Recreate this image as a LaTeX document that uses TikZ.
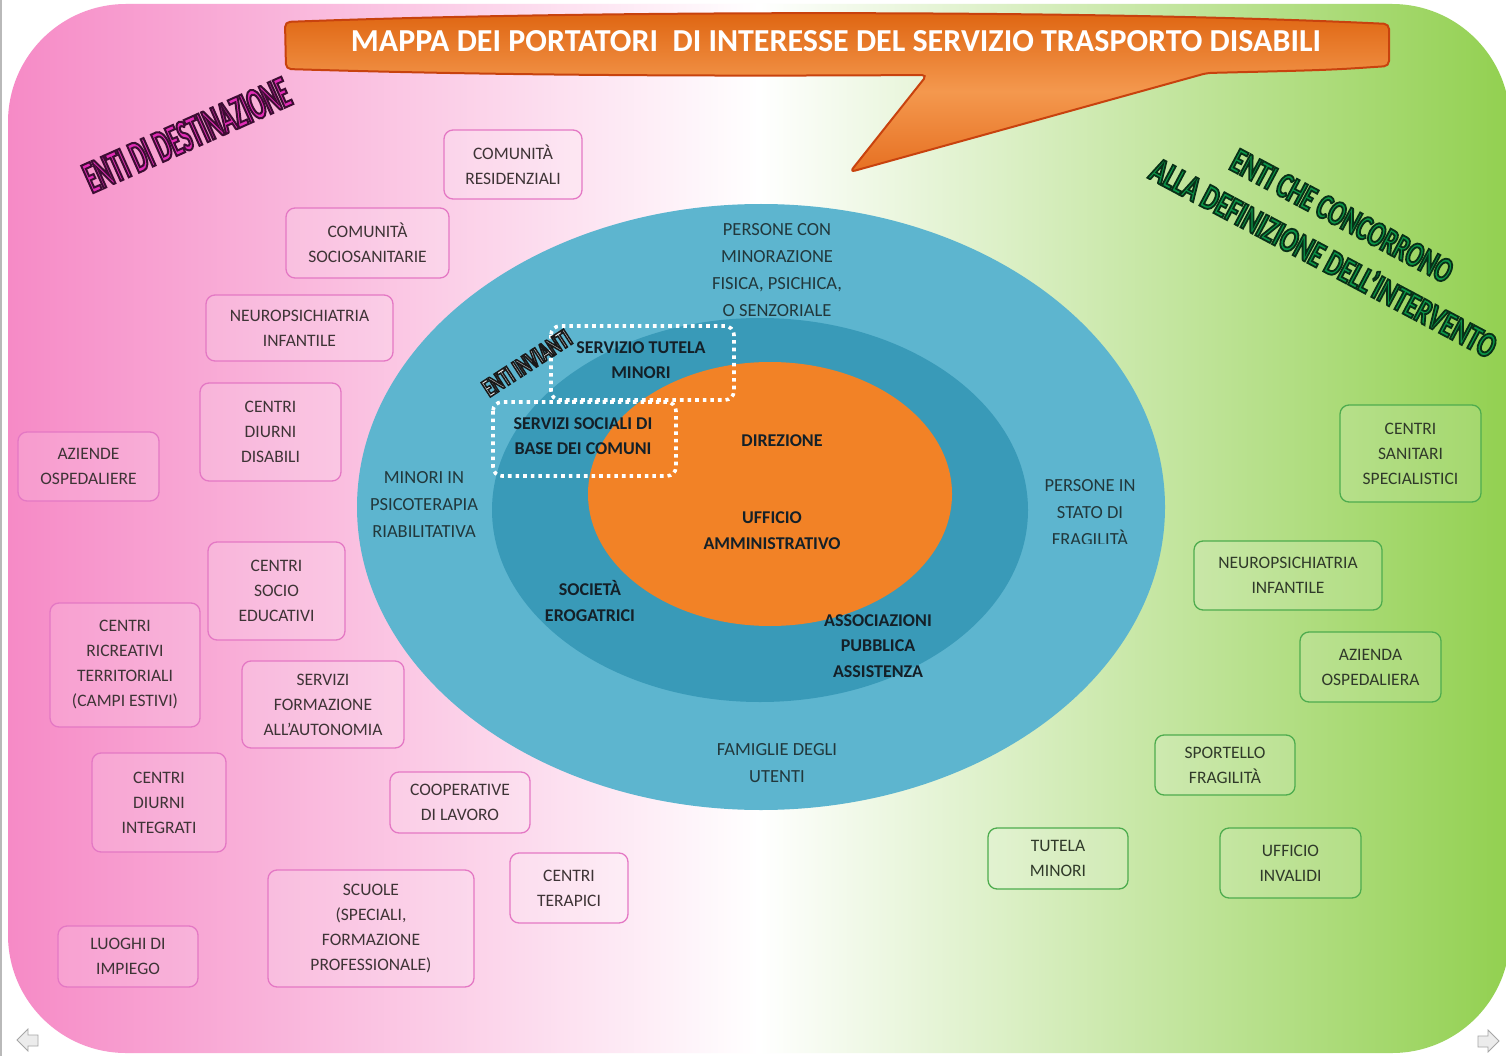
\documentclass[tikz,border=0pt]{standalone}
\usepackage{fontspec}
\setmainfont{Carlito}
\usepackage{graphicx}
\usetikzlibrary{calc}
\definecolor{pinkL}{RGB}{246,138,198}
\definecolor{greenR}{RGB}{146,208,80}
\definecolor{pinkborder}{RGB}{228,120,196}
\definecolor{greenborder}{RGB}{78,172,78}
\definecolor{boxtext}{RGB}{62,52,54}
\definecolor{gboxtext}{RGB}{48,58,42}
\definecolor{outerblue}{RGB}{93,181,207}
\definecolor{midblue}{RGB}{57,154,184}
\definecolor{orangeC}{RGB}{242,130,38}
\definecolor{eltext}{RGB}{34,56,60}
\definecolor{boldtext}{RGB}{20,32,40}
\definecolor{banD}{RGB}{222,100,16}
\definecolor{banL}{RGB}{244,152,78}
\definecolor{banM}{RGB}{230,112,34}
\definecolor{banEdge}{RGB}{200,66,14}
\definecolor{magentaW}{RGB}{226,44,182}
\definecolor{greenW}{RGB}{10,150,72}
\definecolor{grayW}{RGB}{236,236,236}
\newcommand\bxfont{\fontsize{17.5}{25}\selectfont}
\newcommand\elfont{\fontsize{18.5}{27}\selectfont}
\newcommand\bdfont{\fontsize{18}{25.5}\selectfont\bfseries}
% #1 name, #2 position, #3 angle, #4 font size, #5 stretch, #6 text, #7 stroke rgb, #8 fill colour, #9 stroke width
\newcommand\wordart[9]{%
  \node[rotate=#3, inner sep=0, text=#8] (#1) at (#2)
    {\fontsize{#4}{#4}\selectfont\bfseries\addfontfeatures{FakeStretch=#5}%
     \special{pdf:literal direct #7 RG #9 w 2 Tr}#6\special{pdf:literal direct 0 Tr}};
}
\begin{document}
\begin{tikzpicture}[x=1pt,y=-1pt,
  pbox/.style={draw=pinkborder, line width=1.3, rounded corners=9, fill=white, fill opacity=0.14, text opacity=1, text=boxtext, align=center, inner sep=0, font=\bxfont},
  gbox/.style={draw=greenborder, line width=1.3, rounded corners=9, fill=white, fill opacity=0.14, text opacity=1, text=gboxtext, align=center, inner sep=0, font=\bxfont},
  ellabel/.style={text=eltext, align=center, inner sep=0, font=\elfont},
  boldlabel/.style={text=boldtext, align=center, inner sep=0, font=\bdfont},
  dotbox/.style={draw=white, line width=3.6, dash pattern=on 3.6pt off 4pt, rounded corners=9},
  navarrow/.style={fill=grayW, draw=gray!70, line width=0.8}
]
\useasboundingbox (0,0) rectangle (1506,1056);
\fill[white] (0,0) rectangle (1506,1056);
\draw[gray!55, line width=1.6] (0.8,0) -- (0.8,1056);

% background
\shade[left color=pinkL, right color=greenR, middle color=white]
  (8,4) [rounded corners=118] rectangle (1510,1053);

% banner
\shade[top color=banD, bottom color=banM, middle color=banL, draw=banEdge, line width=2, rounded corners=5]
  (285,22) .. controls (600,10) and (1100,10) .. (1389,24) -- (1389,66)
  .. controls (1330,70) .. (1207,73) -- (850,172) -- (927,75)
  .. controls (600,77) and (420,73) .. (286,69) -- cycle;
\node[text=white, inner sep=0, font=\fontsize{32}{32}\selectfont\bfseries] (title) at (836,41)
  {MAPPA DEI PORTATORI \ DI INTERESSE DEL SERVIZIO TRASPORTO DISABILI};

% ellipses
\fill[outerblue] (761,507) ellipse [x radius=404, y radius=303];
\fill[midblue] (760,510) ellipse [x radius=268, y radius=192];
\fill[orangeC] (770,494) ellipse [x radius=182, y radius=132];

% dotted boxes
\draw[dotbox] (551,326) rectangle (734,400);
\draw[dotbox] (493,402) rectangle (676,476);

% labels of the rings
\node[ellabel] (e1) at (777,270) {PERSONE CON\\MINORAZIONE\\FISICA, PSICHICA,\\O SENZORIALE};
\node[ellabel] (e2) at (424,504.5) {MINORI IN\\PSICOTERAPIA\\RIABILITATIVA};
\begin{scope}
  \clip (1000,440) rectangle (1180,543);
  \node[ellabel] (e3) at (1090,513) {PERSONE IN\\STATO DI\\FRAGILITÀ};
\end{scope}
\node[ellabel] (e4) at (777,763.5) {FAMIGLIE DEGLI\\UTENTI};

\node[boldlabel] (b1) at (641,360) {SERVIZIO TUTELA\\MINORI};
\node[boldlabel] (b2) at (583,436) {SERVIZI SOCIALI DI\\BASE DEI COMUNI};
\node[boldlabel] (b3) at (782,441) {DIREZIONE};
\node[boldlabel] (b4) at (772,530.5) {UFFICIO\\AMMINISTRATIVO};
\node[boldlabel] (b5) at (590,601) {SOCIETÀ\\EROGATRICI};
\node[boldlabel] (b6) at (878,646) {ASSOCIAZIONI\\PUBBLICA\\ASSISTENZA};

% pink boxes
\node[pbox, minimum width=138, minimum height=69] (p1) at (513,164.5) {COMUNITÀ\\RESIDENZIALI};
\node[pbox, minimum width=163, minimum height=70] (p2) at (367.5,243) {COMUNITÀ\\SOCIOSANITARIE};
\node[pbox, minimum width=187, minimum height=66] (p3) at (299.5,328) {NEUROPSICHIATRIA\\INFANTILE};
\node[pbox, minimum width=141, minimum height=98] (p4) at (270.5,432) {CENTRI\\DIURNI\\DISABILI};
\node[pbox, minimum width=141, minimum height=69] (p5) at (88.5,466.5) {AZIENDE\\OSPEDALIERE};
\node[pbox, minimum width=137, minimum height=98] (p6) at (276.5,591) {CENTRI\\SOCIO\\EDUCATIVI};
\node[pbox, minimum width=150, minimum height=124] (p7) at (125,665) {CENTRI\\RICREATIVI\\TERRITORIALI\\(CAMPI ESTIVI)};
\node[pbox, minimum width=162, minimum height=87] (p8) at (323,704.5) {SERVIZI\\FORMAZIONE\\ALL’AUTONOMIA};
\node[pbox, minimum width=134, minimum height=99] (p9) at (159,802.5) {CENTRI\\DIURNI\\INTEGRATI};
\node[pbox, minimum width=140, minimum height=61] (p10) at (460,802.5) {COOPERATIVE\\DI LAVORO};
\node[pbox, minimum width=118, minimum height=70] (p11) at (569,888) {CENTRI\\TERAPICI};
\node[pbox, minimum width=206, minimum height=117] (p12) at (371,928.5) {SCUOLE\\(SPECIALI,\\FORMAZIONE\\PROFESSIONALE)};
\node[pbox, minimum width=140, minimum height=61] (p13) at (128,956.5) {LUOGHI DI\\IMPIEGO};

% green boxes
\node[gbox, minimum width=141, minimum height=97] (g1) at (1410.5,453.5) {CENTRI\\SANITARI\\SPECIALISTICI};
\node[gbox, minimum width=188, minimum height=69] (g2) at (1288,575.5) {NEUROPSICHIATRIA\\INFANTILE};
\node[gbox, minimum width=141, minimum height=70] (g3) at (1370.5,667) {AZIENDA\\OSPEDALIERA};
\node[gbox, minimum width=140, minimum height=60] (g4) at (1225,765) {SPORTELLO\\FRAGILITÀ};
\node[gbox, minimum width=140, minimum height=61] (g5) at (1058,858.5) {TUTELA\\MINORI};
\node[gbox, minimum width=141, minimum height=70] (g6) at (1290.5,863) {UFFICIO\\INVALIDI};

% word-art titles
\wordart{wdest}{187,135}{24}{46}{0.51}{ENTI DI DESTINAZIONE}{0.24 0.05 0.20}{magentaW}{2}
\wordart{wconc}{1342,216}{-28}{36}{0.67}{ENTI CHE CONCORRONO}{0.03 0.19 0.09}{greenW}{1.8}
\wordart{wdef}{1324,257}{-28}{36}{0.70}{ALLA DEFINIZIONE DELL’INTERVENTO}{0.03 0.19 0.09}{greenW}{1.8}
\wordart{winv}{527,363}{33}{26.4}{0.64}{ENTI INVIANTI}{0.1 0.1 0.1}{grayW}{1.5}

% navigation arrows
\draw[navarrow] (17,1040) -- (28,1029) -- (28,1035) -- (38,1035) -- (38,1046) -- (28,1046) -- (28,1051) -- cycle;
\draw[navarrow] (1499,1041) -- (1488,1030) -- (1488,1036) -- (1478,1036) -- (1478,1047) -- (1488,1047) -- (1488,1052) -- cycle;
\end{tikzpicture}
\end{document}
